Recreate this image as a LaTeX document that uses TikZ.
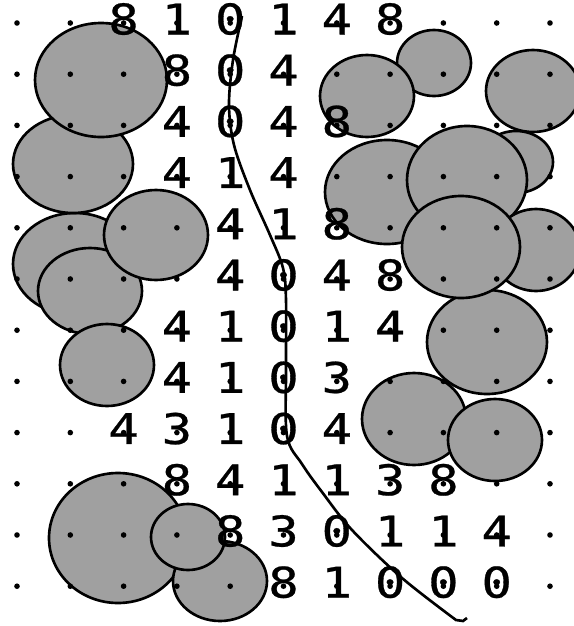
\documentclass[tikz,border=0pt]{standalone}
\usepackage{fontspec}
\usepackage{xcolor}
\newfontfamily\digitfont[FakeBold=0.6]{DejaVu Sans Mono}
\usetikzlibrary{positioning}
\definecolor{blobgray}{RGB}{160,160,160}

\begin{document}
\begin{tikzpicture}[x=0.02cm,y=-0.02cm,
    blob/.style={draw=black,fill=blobgray,line width=1.5pt},
    digit/.style={inner sep=0pt,yshift=0.08cm,font=\digitfont\fontsize{24}{24}\selectfont},
    path/.style={line width=1.5pt}]
    \useasboundingbox (0,0) rectangle (574,626);

    % Left blobs
    \draw[blob] (75,264) ellipse [x radius=62, y radius=51];
    \draw[blob] (73,164) ellipse [x radius=60, y radius=49];
    \draw[blob] (101,80) ellipse [x radius=66, y radius=57];
    \draw[blob] (90,291) ellipse [x radius=52, y radius=43];
    \draw[blob] (156,235) ellipse [x radius=52, y radius=45];
    \draw[blob] (107,365) ellipse [x radius=47, y radius=41];

    % Bottom left blobs
    \draw[blob] (118,538) ellipse [x radius=69, y radius=65];
    \draw[blob] (220,581) ellipse [x radius=47, y radius=40];
    \draw[blob] (188,537) ellipse [x radius=37, y radius=33];

    % Right blobs
    \draw[blob] (434,63) ellipse [x radius=37, y radius=33];
    \draw[blob] (367,96) ellipse [x radius=47, y radius=41];
    \draw[blob] (533,91) ellipse [x radius=47, y radius=41];
    \draw[blob] (387,192) ellipse [x radius=62, y radius=52];
    \draw[blob] (516,162) ellipse [x radius=37, y radius=31];
    \draw[blob] (467,180) ellipse [x radius=60, y radius=54];
    \draw[blob] (536,250) ellipse [x radius=44, y radius=41];
    \draw[blob] (487,342) ellipse [x radius=60, y radius=52];
    \draw[blob] (461,247) ellipse [x radius=59, y radius=51];
    \draw[blob] (414,419) ellipse [x radius=52, y radius=46];
    \draw[blob] (495,440) ellipse [x radius=47, y radius=41];

    % Path through the digits
    \draw[path] plot[smooth,tension=0.55] coordinates {(242,16) (233,60) (229,105) (234,145)
        (250,190) (270,235) (283,268) (286,300) (286,370) (287,436) (302,464) (322,492)
        (352,530) (402,578) (456,620)} -- (463,621) -- (467,618);

    % Digits
    \foreach \c/\r/\d in {2/0/8,3/0/1,4/0/0,5/0/1,6/0/4,7/0/8,
                          3/1/8,4/1/0,5/1/4,
                          3/2/4,4/2/0,5/2/4,6/2/8,
                          3/3/4,4/3/1,5/3/4,
                          4/4/4,5/4/1,6/4/8,
                          4/5/4,5/5/0,6/5/4,7/5/8,
                          3/6/4,4/6/1,5/6/0,6/6/1,7/6/4,
                          3/7/4,4/7/1,5/7/0,6/7/3,
                          2/8/4,3/8/3,4/8/1,5/8/0,6/8/4,
                          3/9/8,4/9/4,5/9/1,6/9/1,7/9/3,8/9/8,
                          4/10/8,5/10/3,6/10/0,7/10/1,8/10/1,9/10/4,
                          5/11/8,6/11/1,7/11/0,8/11/0,9/11/0}
        \node[digit] (d\c-\r) at ({17+53.3*\c},{23+51.2*\r}) {\scalebox{1.2}[1]{\d}};

    % Grid dots
    \foreach \c in {0,...,10}
        \foreach \r in {0,...,11}
            \fill ({17+53.3*\c},{23+51.2*\r}) circle [radius=2.8];
\end{tikzpicture}
\end{document}
